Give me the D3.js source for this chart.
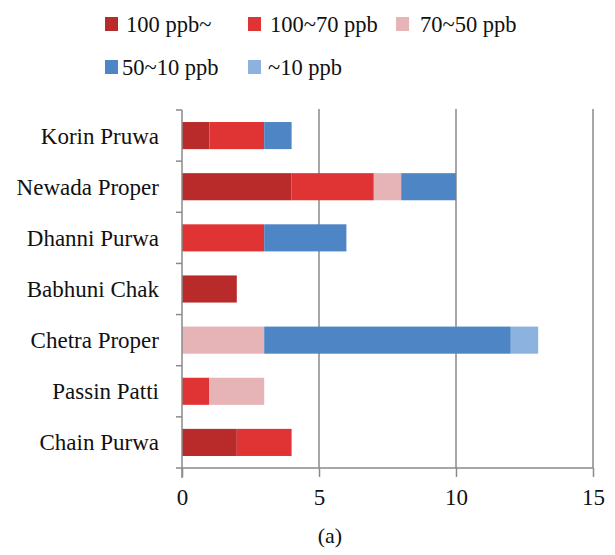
<!DOCTYPE html>
<html><head><meta charset="utf-8">
<script src="https://cdn.jsdelivr.net/npm/d3@7"></script>
<style>body{margin:0;background:#fff}svg{display:block}</style>
</head><body>
<svg id="c" width="615" height="555"></svg>
<script>
const categories = ["Korin Pruwa","Newada Proper","Dhanni Purwa","Babhuni Chak","Chetra Proper","Passin Patti","Chain Purwa"];
const seriesNames = ["100 ppb~","100~70 ppb","70~50 ppb","50~10 ppb","~10 ppb"];
const s100plus = [1,4,0,2,0,0,2];
const s100to70 = [2,3,3,0,0,1,2];
const s70to50 = [0,1,0,0,3,2,0];
const s50to10 = [1,2,3,0,9,0,0];
const s10minus = [0,0,0,0,1,0,0];
const xTicks = [0,5,10,15];
const colors = ["#b92a2a","#e03434","#e6b4b6","#4e86c5","#8cb3e0"];

const series = [s100plus,s100to70,s70to50,s50to10,s10minus];
const rows = categories.map((c,i)=>{const o={cat:c}; seriesNames.forEach((n,j)=>o[n]=series[j][i]); return o;});
const stacked = d3.stack().keys(seriesNames)(rows);

const svg = d3.select("#c");
const font = "'Liberation Serif','Times New Roman',serif";
const x = d3.scaleLinear().domain([0,15]).range([182,593]);
const y = d3.scaleBand().domain(categories).range([110,468]).paddingInner(0.47).paddingOuter(0.235);

// gridlines
svg.append("g").selectAll("line").data(xTicks.filter(t=>t>0)).join("line")
  .attr("x1",d=>x(d)).attr("x2",d=>x(d)).attr("y1",109).attr("y2",468)
  .attr("stroke","#8a8a8a").attr("stroke-width",1.5);

// bars
svg.append("g").selectAll("g").data(stacked).join("g")
  .attr("fill",(d,i)=>colors[i])
  .selectAll("rect").data(d=>d).join("rect")
  .attr("x",d=>x(d[0])).attr("width",d=>x(d[1])-x(d[0]))
  .attr("y",d=>y(d.data.cat)).attr("height",y.bandwidth());

// x axis
const xa = svg.append("g").attr("transform","translate(0,468)")
  .call(d3.axisBottom(x).tickValues(xTicks).tickSize(9).tickPadding(12).tickFormat(d3.format("d")));
xa.select(".domain").attr("stroke","#8a8a8a").attr("stroke-width",1.5).attr("d","M182,0H593");
xa.selectAll(".tick line").attr("stroke","#8a8a8a").attr("stroke-width",1.5);
xa.selectAll("text").attr("font-family",font).attr("font-size",23).attr("fill","#111");

// y axis
const step = (468-110)/categories.length;
const yEdges = d3.range(categories.length+1).map(i=>110+i*step);
svg.append("line").attr("x1",182).attr("x2",182).attr("y1",110).attr("y2",478)
  .attr("stroke","#8a8a8a").attr("stroke-width",1.5);
svg.append("g").selectAll("line").data(yEdges).join("line")
  .attr("x1",176).attr("x2",182).attr("y1",d=>d).attr("y2",d=>d)
  .attr("stroke","#8a8a8a").attr("stroke-width",1.5);
svg.append("g").selectAll("text").data(categories).join("text")
  .attr("x",159).attr("y",d=>y(d)+y.bandwidth()/2).attr("dy","0.35em")
  .attr("text-anchor","end").attr("font-family",font).attr("font-size",23).attr("fill","#111")
  .text(d=>d);

// legend
const legPos = [[105,24],[248,24],[396,24],[105,67],[248,67]];
const leg = svg.append("g").selectAll("g").data(seriesNames).join("g")
  .attr("transform",(d,i)=>`translate(${legPos[i][0]},${legPos[i][1]})`);
leg.append("rect").attr("x",0).attr("y",-7).attr("width",13).attr("height",14).attr("fill",(d,i)=>colors[i]);
leg.append("text").attr("x",(d,i)=>[21,22,24,17,20][i]).attr("dy","0.35em")
  .attr("font-family",font).attr("font-size",22.5).attr("fill","#111").text(d=>d);

svg.append("text").attr("x",330).attr("y",543).attr("text-anchor","middle")
  .attr("font-family",font).attr("font-size",22).attr("fill","#111").text("(a)");
</script>
</body></html>
